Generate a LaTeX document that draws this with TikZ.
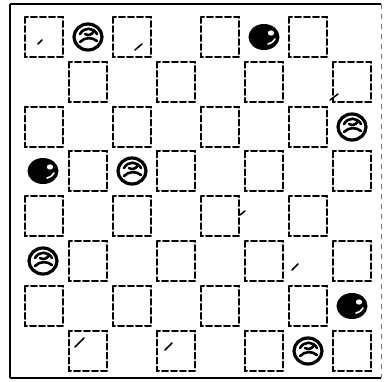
\documentclass[tikz,border=0pt]{standalone}
\usetikzlibrary{shapes.geometric}
\begin{document}
\begin{tikzpicture}[x=1pt,y=-1pt,
  sq/.style={line width=2pt, dash pattern=on 6pt off 3pt, line cap=round},
  blackpc/.style={ellipse, fill=black, draw=black, line width=1pt, minimum width=30pt, minimum height=25pt, inner sep=0pt},
  whitepc/.style={ellipse, fill=white, draw=black, line width=3.2pt, minimum width=28pt, minimum height=26pt, inner sep=0pt},
  swirl/.style={line width=2.6pt, line cap=round},
  hl/.style={white, line width=1.6pt, line cap=round},
  texmark/.style={line width=1.5pt, line cap=round}]
\useasboundingbox (0,0) rectangle (386,381);
\fill[white] (0,0) rectangle (386,381);
% frame
\draw[line width=2.4pt] (10,4) -- (381,4);
\draw[line width=2.6pt] (10,4) -- (10,378);
\draw[line width=2.2pt] (10,378) -- (381,378);
\draw[line width=0.8pt, black!55, dash pattern=on 5pt off 5pt] (381,4) -- (381,378);
% outlined squares (r+c even)
\foreach \r in {0,...,7}{
  \foreach \k in {0,...,3}{
    \pgfmathtruncatemacro\cc{2*\k+mod(\r,2)}
    \pgfmathsetmacro\cx{44+44*\cc}
    \pgfmathsetmacro\cy{37+44.8*\r}
    \draw[sq] (\cx-19,\cy-20) rectangle (\cx+19,\cy+20);
  }
}
% texture marks
\draw[texmark] (135,50) -- (142,44);
\draw[texmark] (75,347) -- (84,338);
\draw[texmark] (165,350) -- (172,343);
\draw[texmark] (292,270) -- (298,264);
\draw[texmark] (240,215) -- (245,211);
\draw[texmark] (330,100) -- (338,94);
\draw[texmark] (38,44) -- (42,40);
% pieces
\node[whitepc] (w1) at (88,37) {};
\node[blackpc] (b1) at (264,37) {};
\node[whitepc] (w2) at (352,127) {};
\node[blackpc] (b2) at (43,171) {};
\node[whitepc] (w3) at (132,171) {};
\node[whitepc] (w4) at (43,261) {};
\node[blackpc] (b3) at (352,306) {};
\node[whitepc] (w5) at (308,351) {};
\foreach \p in {w1,w2,w3,w4,w5}{
  \begin{scope}[shift={(\p)}]
    \draw[swirl] (-8,-3) .. controls (-4,-10) and (5,-10) .. (9,-3);
    \draw[swirl] (-8,5) .. controls (-3,0) and (4,0) .. (9,4);
    \draw[swirl] (-3,-3) .. controls (0,-1) and (4,-2) .. (6,-6);
  \end{scope}
}
\foreach \p in {b1,b2,b3}{
  \begin{scope}[shift={(\p)}]
    \fill[white] (7,-4) ellipse (3.2pt and 2.6pt);
    \draw[hl] (4,7) .. controls (8,6) and (10,4) .. (11,2);
  \end{scope}
}
\end{tikzpicture}
\end{document}
